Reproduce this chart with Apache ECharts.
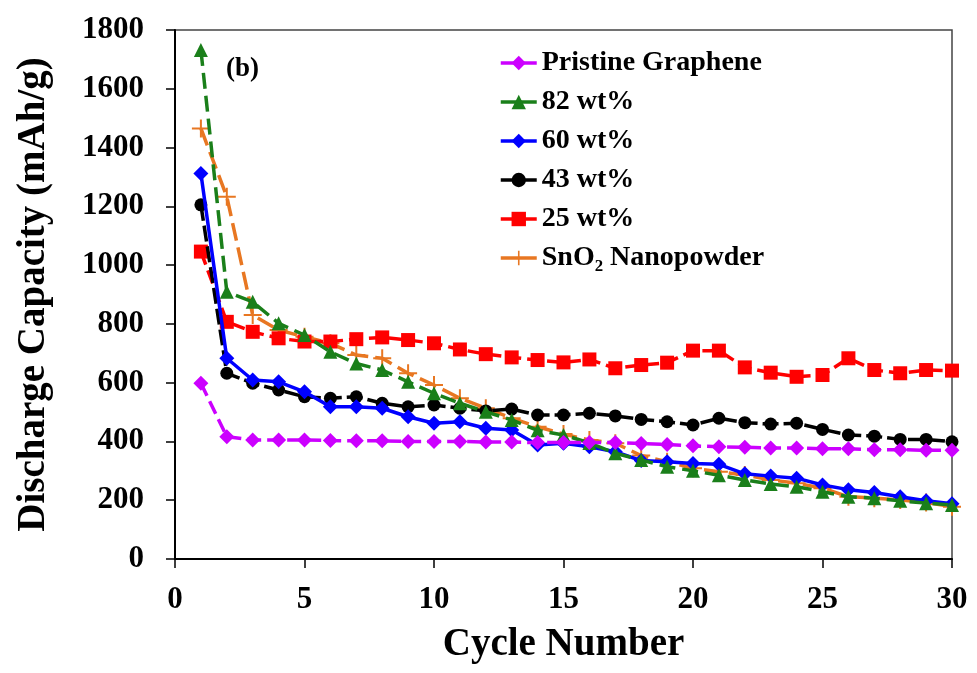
<!DOCTYPE html>
<html><head><meta charset="utf-8">
<script src="https://cdn.jsdelivr.net/npm/echarts@6/dist/echarts.min.js"></script>
<style>html,body{margin:0;padding:0;background:#fff}#c{width:977px;height:673px}</style>
</head><body><div id="c"></div>
<script>
const cycles = [1,2,3,4,5,6,7,8,9,10,11,12,13,14,15,16,17,18,19,20,21,22,23,24,25,26,27,28,29,30];
const seriesNames = ['Pristine Graphene','82 wt%','60 wt%','43 wt%','25 wt%','SnO₂ Nanopowder'];
const pristine = [598,416,405,405,405,403,402,402,400,400,400,398,398,396,396,396,396,393,390,385,382,380,378,378,375,375,372,372,370,370];
const wt82 = [1732,909,875,802,762,705,665,643,603,564,530,501,473,438,422,395,360,337,314,300,285,269,255,246,229,212,207,198,190,184];
const wt60 = [1312,683,609,603,569,518,518,513,484,462,467,445,439,388,394,382,365,335,331,325,322,290,282,275,252,236,226,212,198,188];
const wt43 = [1205,632,598,575,552,547,552,530,518,524,513,504,510,490,490,496,487,475,467,456,479,464,459,462,441,422,418,407,407,399];
const wt25 = [1046,807,773,751,740,740,748,754,745,734,713,697,686,677,669,679,649,660,668,709,709,652,634,620,626,683,643,632,643,641];
const sno2 = [1465,1233,830,779,756,734,694,683,632,592,547,513,479,450,425,405,394,352,331,309,297,286,269,258,241,212,207,201,192,178];
const yTicks = [0,200,400,600,800,1000,1200,1400,1600,1800];
const xTicks = [0,5,10,15,20,25,30];

const F = '"Liberation Serif","Times New Roman",serif';
const pair = arr => cycles.map((c,i)=>[c,arr[i]]);
const styles = [
  {color:'#cc00ff', symbol:'diamond', size:15, dash:[14,6]},
  {color:'#1a7f1a', symbol:'triangle', size:14, dash:[16,7]},
  {color:'#0000ff', symbol:'diamond', size:15, dash:'solid'},
  {color:'#000000', symbol:'circle', size:13, dash:[16,5]},
  {color:'#ff0000', symbol:'rect', size:14, dash:[14,6]},
  {color:'#e87722', symbol:'path://M8,0 L10,0 L10,8 L18,8 L18,10 L10,10 L10,18 L8,18 L8,10 L0,10 L0,8 L8,8 Z', size:18, dash:[18,7]}
];
const datasets = [pristine, wt82, wt60, wt43, wt25, sno2];
const series = datasets.map((d,i)=>({
  name: seriesNames[i], type:'line', data: pair(d),
  symbol: styles[i].symbol, symbolSize: styles[i].size,
  itemStyle:{color:styles[i].color},
  lineStyle:{color:styles[i].color, width:3.5, type:styles[i].dash},
  z: 10-i
}));
const chart = echarts.init(document.getElementById('c'), null, {renderer:'canvas'});
chart.setOption({
  animation:false,
  backgroundColor:'#fff',
  grid:{left:175, right:25, top:30, bottom:114, show:true, borderColor:'#444', borderWidth:1.5},
  legend:{
    data: seriesNames, orient:'vertical', left:499, top:49, padding:0, itemGap:11, itemWidth:36, itemHeight:18,
    lineStyle:{type:'solid', width:3.5},
    textStyle:{fontFamily:F, fontWeight:'bold', fontSize:28, color:'#000'}
  },
  graphic:[{type:'text', left:226, top:56, style:{text:'(b)', font:'bold 27px '+F, fill:'#000'}}],
  xAxis:{
    type:'value', min:0, max:30, interval:5,
    name:'Cycle Number', nameLocation:'middle', nameGap:66,
    nameTextStyle:{fontFamily:F, fontWeight:'bold', fontSize:39, color:'#000'},
    axisLine:{lineStyle:{color:'#000', width:2}},
    axisTick:{inside:false, length:9, lineStyle:{color:'#000', width:1.5}},
    axisLabel:{fontFamily:F, fontWeight:'bold', fontSize:31, color:'#000', margin:25, formatter: v => xTicks.includes(v)? String(v):''},
    splitLine:{show:false}
  },
  yAxis:{
    type:'value', min:0, max:1800, interval:200,
    name:'Discharge Capacity (mAh/g)', nameLocation:'middle', nameGap:122,
    nameTextStyle:{fontFamily:F, fontWeight:'bold', fontSize:39, color:'#000'},
    axisLine:{lineStyle:{color:'#000', width:2}},
    axisTick:{inside:false, length:9, lineStyle:{color:'#000', width:1.5}},
    axisLabel:{fontFamily:F, fontWeight:'bold', fontSize:31, color:'#000', margin:31, formatter: v => yTicks.includes(v)? String(v):''},
    splitLine:{show:false}
  },
  series: series
});
</script></body></html>
